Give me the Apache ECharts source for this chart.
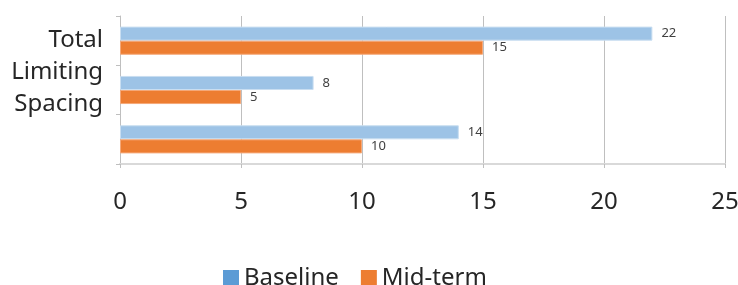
<!DOCTYPE html>
<html>
<head>
<meta charset="utf-8">
<script src="https://cdn.jsdelivr.net/npm/echarts@6/dist/echarts.min.js"></script>
<style>
  html, body { margin: 0; padding: 0; background: #fff; }
  #chart { width: 738px; height: 285px; }
</style>
</head>
<body>
<div id="chart"></div>
<script>
// categories (top to bottom) and the two series
const categories = ['Total', 'Limiting', 'Spacing']
const baseline = [22, 8, 14]
const midTerm = [15, 5, 10]
const xTicks = { min: 0, max: 25, interval: 5 }

const font = 'Noto Sans'
const myChart = echarts.init(document.getElementById('chart'))

const option = {
    animation: false,
    textStyle: { fontFamily: font },
    legend: {
        bottom: -5,
        left: 223,
        padding: 0,
        itemWidth: 16,
        itemHeight: 16,
        itemGap: 22,
        icon: 'rect',
        textStyle: { fontSize: 24, color: '#262626', fontFamily: font },
        data: [
            { name: 'Baseline', itemStyle: { color: '#5B9BD5', borderWidth: 0 } },
            { name: 'Mid-term', itemStyle: { color: '#ED7D31', borderWidth: 0 } }
        ]
    },
    grid: [
        { left: 120, right: 13, top: 16, bottom: 121, outerBoundsMode: 'none' },
        // labels sit a bit off the bars, like the original
        { left: 120, right: 13, top: 24, height: 96, outerBoundsMode: 'none' }
    ],
    xAxis: [
        {
            type: 'value',
            gridIndex: 0,
            min: xTicks.min,
            max: xTicks.max,
            interval: xTicks.interval,
            axisLine: { show: true, lineStyle: { color: '#D9D9D9', width: 2 } },
            axisTick: { show: true, length: 4, lineStyle: { color: '#BFBFBF' } },
            splitLine: { show: true, lineStyle: { color: '#BFBFBF', width: 1 } },
            axisLabel: { fontSize: 24, color: '#262626', margin: 26, fontFamily: font }
        },
        { type: 'value', gridIndex: 1, show: false }
    ],
    yAxis: [
        {
            type: 'category',
            gridIndex: 0,
            inverse: true,
            data: categories,
            axisLine: { show: true, lineStyle: { color: '#BFBFBF' } },
            axisTick: { show: true, length: 4, lineStyle: { color: '#BFBFBF' } },
            axisLabel: { show: false }
        },
        {
            type: 'category',
            gridIndex: 1,
            inverse: true,
            data: categories,
            axisLine: { show: false },
            axisTick: { show: false },
            axisLabel: { fontSize: 24, color: '#262626', margin: 17, fontFamily: font }
        }
    ],
    series: [
        {
            name: 'Baseline',
            type: 'bar',
            data: baseline,
            barGap: '0%',
            barCategoryGap: '43%',
            itemStyle: { color: '#9DC3E6', borderColor: '#C9DEF1', borderWidth: 1 },
            label: { show: true, position: 'right', distance: 9, fontSize: 13, color: '#404040' }
        },
        {
            name: 'Mid-term',
            type: 'bar',
            data: midTerm,
            itemStyle: { color: '#ED7D31', borderColor: '#F5A878', borderWidth: 1 },
            label: { show: true, position: 'right', distance: 9, fontSize: 13, color: '#404040' }
        }
    ]
}
myChart.setOption(option)
window.addEventListener('resize', () => { myChart.resize() })
</script>
</body>
</html>
